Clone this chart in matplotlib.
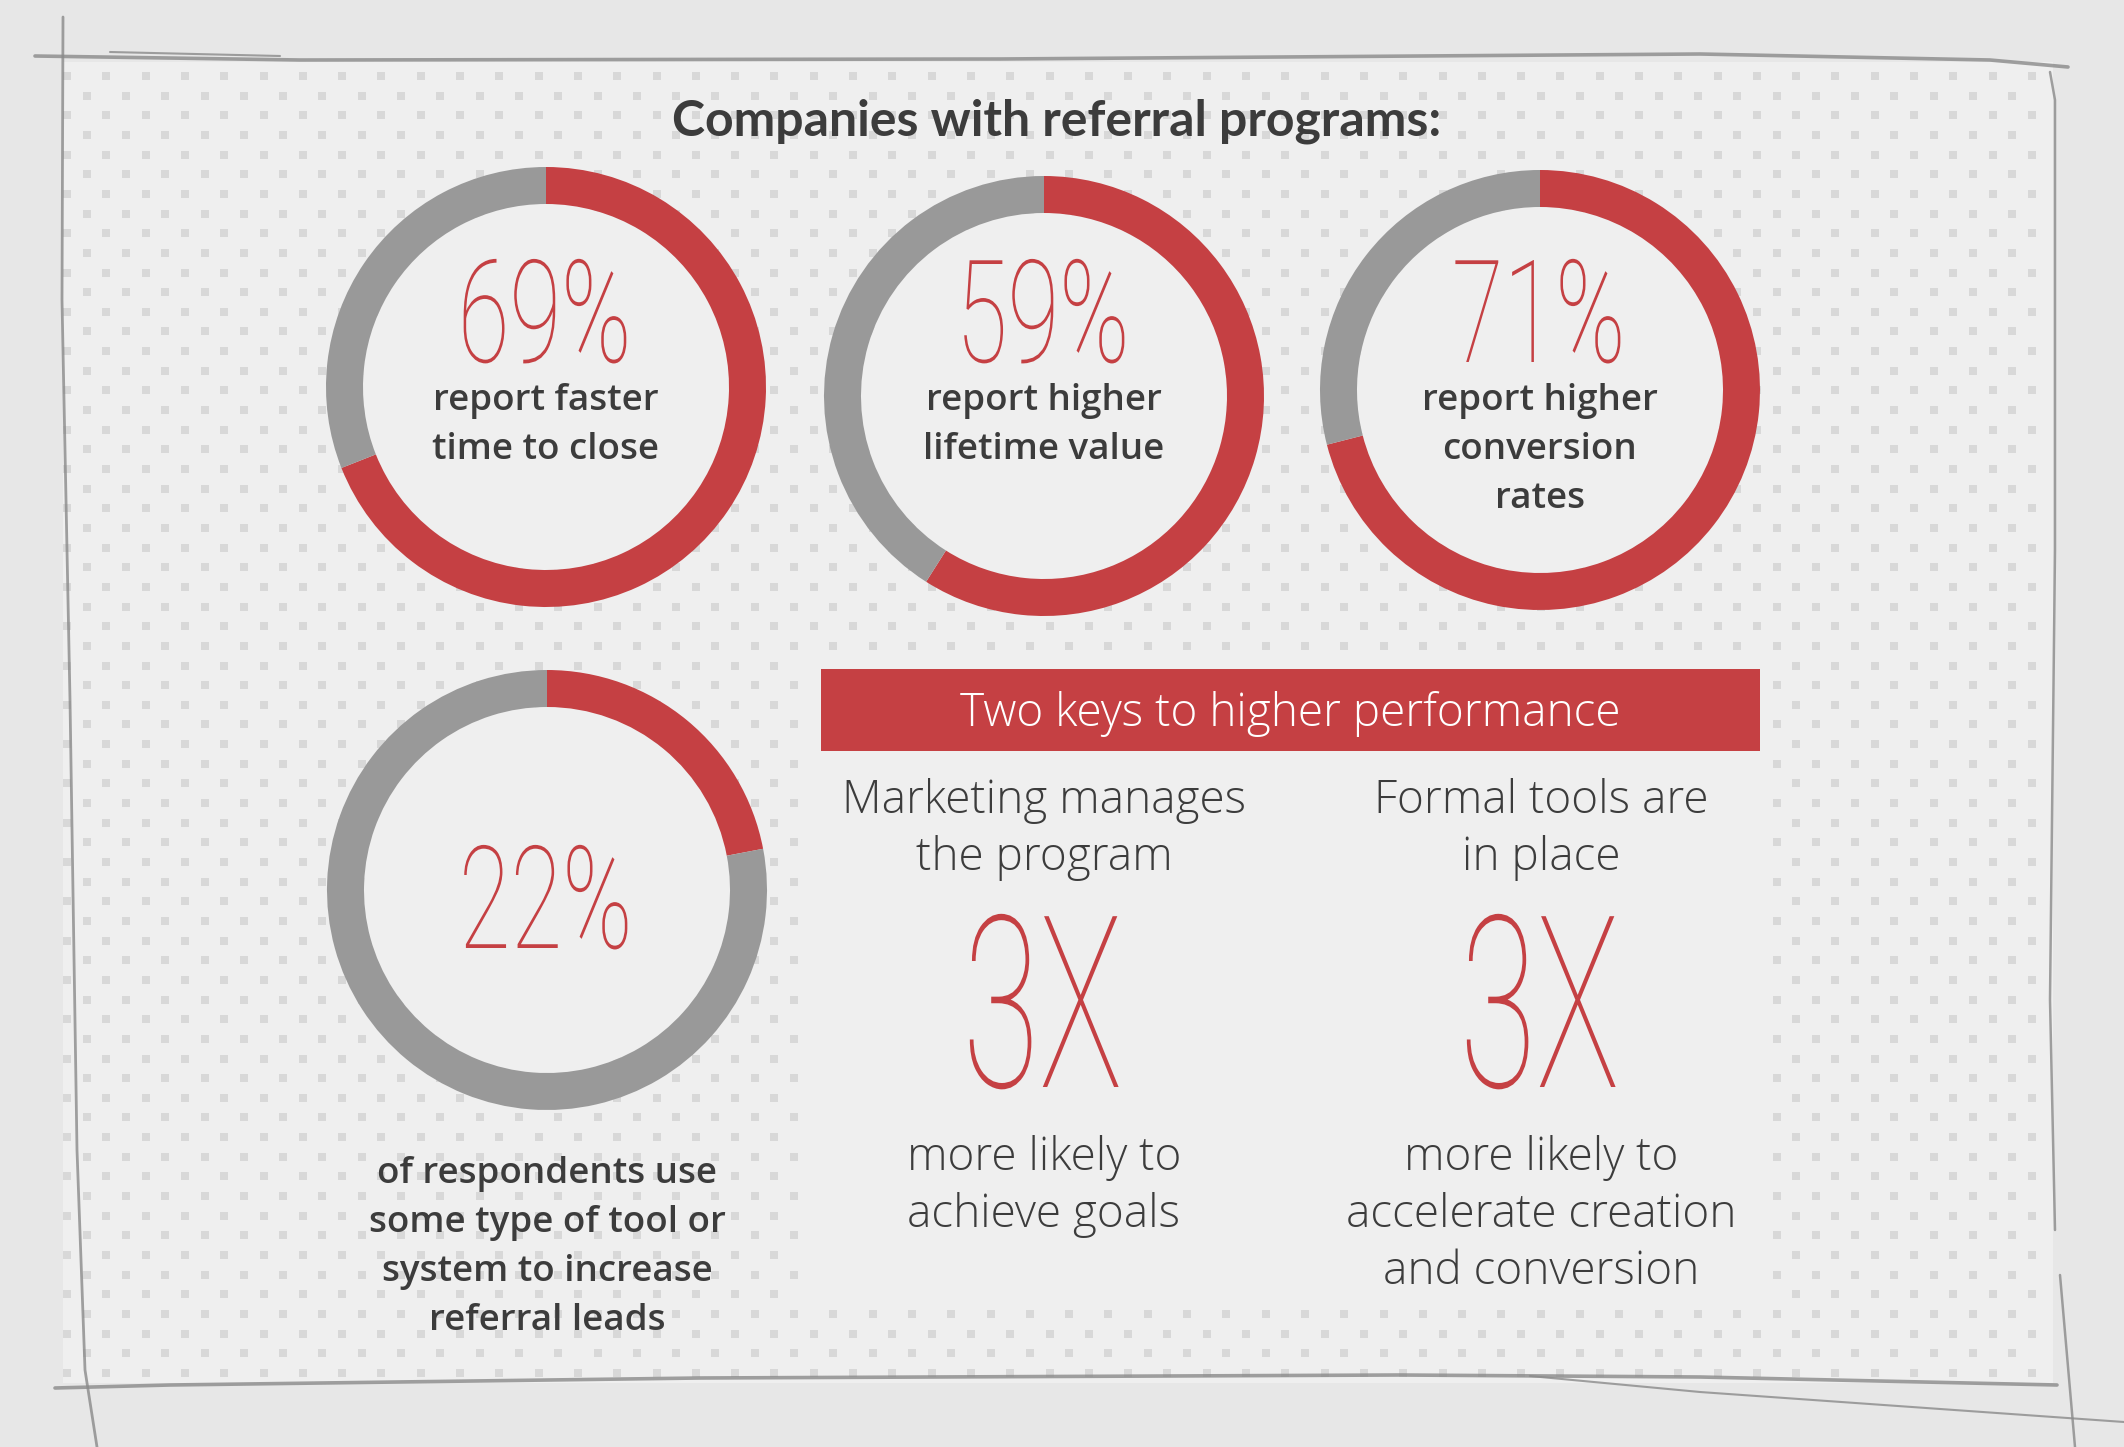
import numpy as np
import matplotlib.pyplot as plt
from matplotlib.patches import Wedge, Circle, Rectangle
from matplotlib.transforms import Affine2D
from matplotlib import patheffects

# =====================================================
# DATA
# =====================================================

title = "Companies with referral programs:"

pct_values = [69, 59, 71, 22]
pct_captions = [
    ["report faster", "time to close"],
    ["report higher", "lifetime value"],
    ["report higher", "conversion", "rates"],
    ["of respondents use", "some type of tool or", "system to increase", "referral leads"],
]

keys_header = "Two keys to higher performance"
key_titles = [["Marketing manages", "the program"], ["Formal tools are", "in place"]]
key_multipliers = [3, 3]
key_notes = [["more likely to", "achieve goals"],
             ["more likely to", "accelerate creation", "and conversion"]]

# =====================================================
# LAYOUT / STYLE (pixel canvas 2124 x 1447, y down)
# =====================================================

W, H = 2124, 1447
RED = "#c54043"
GREY = "#999999"
DARK = "#3c3c3c"
PANEL = "#efefef"
PAPER = "#e7e7e7"
DOT = "#d8d8d8"
PENCIL = "#8a8a8a"

donut_centers = [(546, 387), (1044, 396), (1540, 390), (547, 890)]
R_OUT, RING = 220, 37
pct_baselines = [362, 362, 362, 948]
caption_first = [410, 410, 410, 1183]
CAPTION_GAP = 49

key_cols = [1044, 1541]
TITLE_FONT = ["Lato", "DejaVu Sans"]
SANS = ["Open Sans", "DejaVu Sans"]
NUM = ["Roboto", "DejaVu Sans"]


class Condense(patheffects.AbstractPathEffect):
    """squeeze glyphs horizontally around the centre of each line"""

    def __init__(self, sx):
        super().__init__()
        self.sx = sx

    def draw_path(self, renderer, gc, tpath, affine, rgbFace=None):
        xs = affine.transform(tpath.vertices)[:, 0]
        cx = 0.5 * (xs.min() + xs.max())
        squeeze = affine + Affine2D().translate(-cx, 0).scale(self.sx, 1).translate(cx, 0)
        renderer.draw_path(gc, tpath, squeeze, rgbFace)


fig = plt.figure(figsize=(W / 100, H / 100), dpi=100, facecolor=PAPER)
ax = fig.add_axes([0, 0, 1, 1])
ax.set_xlim(0, W)
ax.set_ylim(H, 0)
ax.axis("off")

# =====================================================
# BACKGROUND PANEL + DOT PATTERN
# =====================================================

ax.add_patch(Rectangle((63, 62), 1990, 1321, color=PANEL, zorder=0, lw=0))

sec_x0, sec_y0, sec_x1, sec_y1 = 809, 656, 1768, 1310
step = 39.3
rows = np.arange(76, 1378, step / 2)
dx, dy = [], []
for k, y in enumerate(rows):
    xs = np.arange(67 + (k % 2) * step / 2, 2048, step)
    keep = ~((xs > sec_x0) & (xs < sec_x1) & (y > sec_y0) & (y < sec_y1))
    dx.extend(xs[keep])
    dy.extend([y] * keep.sum())
ax.scatter(dx, dy, marker="s", s=34, color=DOT, lw=0, zorder=1)

ax.add_patch(Rectangle((sec_x0, sec_y0), sec_x1 - sec_x0, sec_y1 - sec_y0,
                       color=PANEL, lw=0, zorder=1.5))

# pencil frame
pencil_lines = [
    ([35, 300, 1000, 1700, 1990, 2068], [56, 60, 59, 54, 60, 67], 2.6),
    ([110, 280], [52, 56], 1.5),
    ([63, 62, 70, 77, 85, 97], [17, 300, 700, 1150, 1370, 1447], 2.0),
    ([55, 170, 700, 1400, 1700, 2057], [1388, 1385, 1378, 1375, 1377, 1385], 2.6),
    ([1530, 1700, 2124], [1376, 1392, 1422], 1.5),
    ([2050, 2055, 2055, 2050, 2055], [72, 100, 550, 1000, 1230], 1.8),
    ([2060, 2075], [1275, 1447], 1.8),
]
for xs, ys, lw in pencil_lines:
    ax.plot(xs, ys, color=PENCIL, lw=lw, alpha=0.8, solid_capstyle="round", zorder=4)

# =====================================================
# TITLE
# =====================================================

ax.text(1057, 135, title, ha="center", va="baseline", fontsize=36,
        fontweight="bold", color=DARK, family=TITLE_FONT, zorder=5)

# =====================================================
# DONUTS
# =====================================================

for (cx, cy), v, base, cap, first in zip(donut_centers, pct_values,
                                         pct_baselines, pct_captions, caption_first):
    split = -90 + 360 * v / 100
    ax.add_patch(Circle((cx, cy), R_OUT - RING, color=PANEL, lw=0, zorder=2))
    ax.add_patch(Wedge((cx, cy), R_OUT, -90, split, width=RING, color=RED, lw=0, zorder=3))
    ax.add_patch(Wedge((cx, cy), R_OUT, split, 270, width=RING, color=GREY, lw=0, zorder=3))
    ax.text(cx, base, f"{v}%", ha="center", va="baseline", fontsize=103,
            fontweight="light", color=RED, family=NUM, zorder=5,
            path_effects=[Condense(0.66)])
    for i, line in enumerate(cap):
        ax.text(cx, first + i * CAPTION_GAP, line, ha="center", va="baseline",
                fontsize=26.5, fontweight="semibold", color=DARK, family=SANS, zorder=5)

# =====================================================
# TWO KEYS SECTION
# =====================================================

ax.add_patch(Rectangle((821, 669), 939, 82, color=RED, lw=0, zorder=3))
ax.text(1290, 726, keys_header, ha="center", va="baseline", fontsize=33,
        fontweight="light", color="white", family=SANS, zorder=5)

for x, t_lines, mult, notes in zip(key_cols, key_titles, key_multipliers, key_notes):
    for i, line in enumerate(t_lines):
        ax.text(x, 813 + i * 57, line, ha="center", va="baseline", fontsize=33,
                fontweight="light", color=DARK, family=SANS, zorder=5)
    ax.text(x, 1087, f"{mult}X", ha="center", va="baseline", fontsize=173,
            fontweight="light", color=RED, family=NUM, zorder=5,
            path_effects=[Condense(0.58)])
    for i, line in enumerate(notes):
        ax.text(x, 1170 + i * 57, line, ha="center", va="baseline", fontsize=33,
                fontweight="light", color=DARK, family=SANS, zorder=5)

fig.savefig("out.png", dpi=100, facecolor=PAPER)
